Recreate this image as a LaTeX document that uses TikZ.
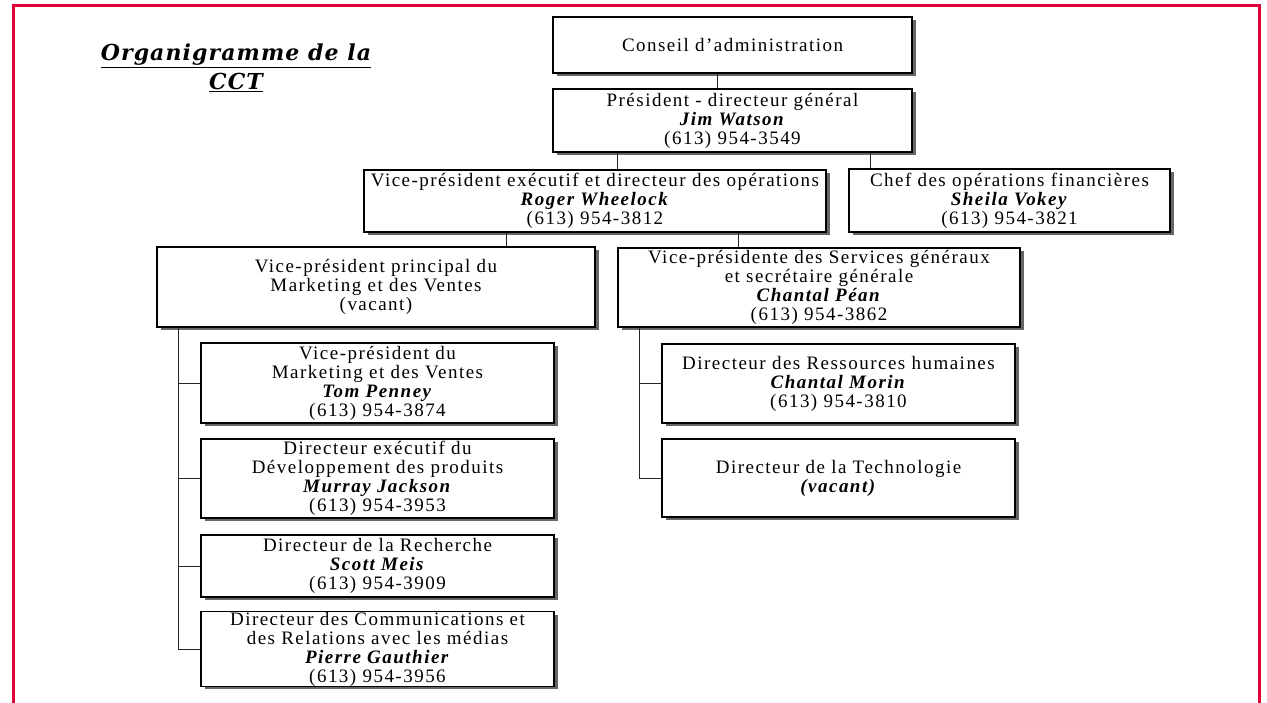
\documentclass[tikz,border=0pt]{standalone}
\usepackage{fontspec}
\setmainfont{Liberation Serif}
\newfontfamily\boxfont[LetterSpace=7.8]{Liberation Serif}
\newfontfamily\titlefont[LetterSpace=5]{DejaVu Serif}
\usetikzlibrary{shadows}

\definecolor{cctred}{RGB}{226,0,56}
\newcommand{\who}[1]{\textbf{\textit{#1}}}

\begin{document}
\begin{tikzpicture}[x=1pt,y=-1pt,
  orgbox/.style={draw=black, line width=1.2pt, fill=white, align=center,
    inner sep=0pt, font=\boxfont\fontsize{19}{19}\selectfont,
    drop shadow={shadow xshift=4pt, shadow yshift=-3pt, fill=black!60, opacity=1}},
  link/.style={draw=black!85, line width=0.8pt}]

  \useasboundingbox (0,0) rectangle (1267,703);
  \draw[cctred, line width=3pt] (13,703) -- (13,6) -- (1259,6) -- (1259,703);

  \node[font=\titlefont\bfseries\itshape\fontsize{22}{29}\selectfont, align=center]
    (title) at (236,68) {\underline{Organigramme de la}\\\underline{CCT}};

  % top of the chart
  \node[orgbox, minimum width=359pt, minimum height=56pt] (conseil) at (732.5,45)
    {Conseil d’administration};
  \node[orgbox, minimum width=359pt, minimum height=63pt] (pdg) at (732.5,120.5)
    {Président - directeur général\\\who{Jim Watson}\\(613) 954-3549};
  \node[orgbox, minimum width=462pt, minimum height=62pt] (vpexec) at (595,201)
    {Vice-président exécutif et directeur des opérations\\\who{Roger Wheelock}\\(613) 954-3812};
  \node[orgbox, minimum width=321pt, minimum height=63pt] (chef) at (1009.5,200.5)
    {Chef des opérations financières\\\who{Sheila Vokey}\\(613) 954-3821};
  \node[orgbox, minimum width=438pt, minimum height=80pt] (vpprin) at (376,287)
    {Vice-président principal du\\Marketing et des Ventes\\(vacant)};
  \node[orgbox, minimum width=402pt, minimum height=79pt] (vpsg) at (819,287.5)
    {Vice-présidente des Services généraux\\et secrétaire générale\\\who{Chantal Péan}\\(613) 954-3862};

  % marketing branch
  \node[orgbox, minimum width=353pt, minimum height=80pt] (tom) at (377.5,383)
    {Vice-président du\\Marketing et des Ventes\\\who{Tom Penney}\\(613) 954-3874};
  \node[orgbox, minimum width=353pt, minimum height=79pt] (murray) at (377.5,478.5)
    {Directeur exécutif du\\Développement des produits\\\who{Murray Jackson}\\(613) 954-3953};
  \node[orgbox, minimum width=353pt, minimum height=62pt] (scott) at (377.5,566)
    {Directeur de la Recherche\\\who{Scott Meis}\\(613) 954-3909};
  \node[orgbox, minimum width=353pt, minimum height=73pt] (pierre) at (377.5,649)
    {Directeur des Communications et\\des Relations avec les médias\\\who{Pierre Gauthier}\\(613) 954-3956};

  % services branch
  \node[orgbox, minimum width=353pt, minimum height=79pt] (morin) at (838.5,383.5)
    {Directeur des Ressources humaines\\\who{Chantal Morin}\\(613) 954-3810};
  \node[orgbox, minimum width=353pt, minimum height=78pt] (techno) at (838.5,478)
    {Directeur de la Technologie\\\who{(vacant)}};

  % connectors
  \draw[link] ([xshift=-15pt]conseil.south) -- ([xshift=-15pt]pdg.north);
  \draw[link] ([xshift=65pt]pdg.south west) -- ([xshift=65pt]pdg.south west |- vpexec.north);
  \draw[link] ([xshift=-42pt]pdg.south east) -- ([xshift=-42pt]pdg.south east |- chef.north);
  \draw[link] ([xshift=143pt]vpexec.south west) -- ([xshift=143pt]vpexec.south west |- vpprin.north);
  \draw[link] ([xshift=121pt]vpsg.north west) -- ([xshift=121pt]vpsg.north west |- vpexec.south);

  \coordinate (lbus) at ([xshift=22pt]vpprin.south west);
  \draw[link] (lbus) |- (pierre.west);
  \foreach \n in {tom,murray,scott}
    \draw[link] (\n.west) -- (\n.west -| lbus);

  \coordinate (rbus) at ([xshift=22pt]vpsg.south west);
  \draw[link] (rbus) |- (techno.west);
  \draw[link] (morin.west) -- (morin.west -| rbus);
\end{tikzpicture}
\end{document}
